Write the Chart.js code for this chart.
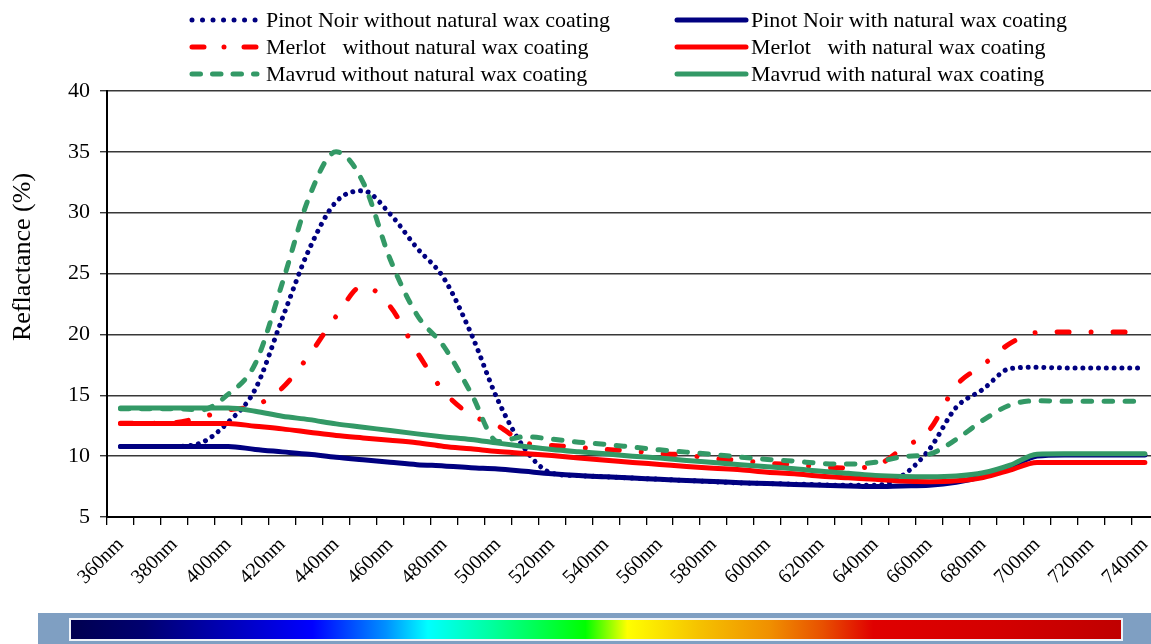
<!DOCTYPE html>
<html>
<head>
<meta charset="utf-8">
<script src="https://cdn.jsdelivr.net/npm/chart.js@4.4.1/dist/chart.umd.min.js"></script>
<style>
html,body{margin:0;padding:0;background:#fff;overflow:hidden;width:1151px;height:644px;}
#wrap{position:absolute;left:0;top:0;width:1170px;height:612px;}
#bar{position:absolute;left:38px;top:613px;width:1113px;height:31px;background:#7f9fc2;}
#grad{position:absolute;left:31px;top:5px;width:1050px;height:19px;border:2px solid #eef2f8;
background:linear-gradient(to right,#000050 0%,#000070 7%,#0000b0 14%,#0000ff 23%,#0090ff 30%,#00ffff 34%,#00ffa0 40%,#00ff00 49%,#ffff00 53%,#f5c000 60%,#f09000 66.5%,#e85000 71.6%,#e00000 76.4%,#d40000 88%,#c00000 100%);}
</style>
</head>
<body>
<div id="wrap"><canvas id="c"></canvas></div>
<div id="bar"><div id="grad"></div></div>
<script>
const categories = ['360nm','370nm','380nm','390nm','400nm','410nm','420nm','430nm','440nm','450nm',
  '460nm','470nm','480nm','490nm','500nm','510nm','520nm','530nm','540nm','550nm',
  '560nm','570nm','580nm','590nm','600nm','610nm','620nm','630nm','640nm','650nm',
  '660nm','670nm','680nm','690nm','700nm','710nm','720nm','730nm','740nm'];

const yTicks = [5,10,15,20,25,30,35,40];

const pinotWithout = [10.8,10.8,10.8,11.1,12.8, 15.5,21.3,27.0,30.9,31.8,
  29.9,27.1,24.6,20.1,14.6, 10.6,8.6,8.4,8.3,8.2,
  8.1,8.0,7.9,7.8,7.75, 7.7,7.65,7.6,7.6,8.4,
  10.55,14.0,15.5,17.2,17.3, 17.25,17.25,17.25,17.25];

const pinotWith = [10.8,10.8,10.8,10.8,10.8, 10.55,10.35,10.15,9.9,9.7,
  9.5,9.3,9.2,9.05,8.95, 8.75,8.55,8.4,8.3,8.2,
  8.1,8.0,7.92,7.82,7.75, 7.67,7.6,7.55,7.5,7.55,
  7.6,7.85,8.35,9.1,10.0, 10.1,10.1,10.1,10.1];

const merlotWithout = [12.7,12.7,12.75,13.2,13.8, 14.15,15.6,18.3,21.5,24.0,
  22.3,18.55,15.3,13.4,12.5, 11.1,10.88,10.71,10.55,10.41,
  10.22,10.08,9.8,9.64,9.42, 9.29,9.1,9.03,9.2,10.63,
  12.14,15.8,17.5,19.26,20.16, 20.2,20.2,20.2,20.2];

const merlotWith = [12.68,12.68,12.68,12.68,12.68, 12.46,12.24,11.97,11.7,11.5,
  11.31,11.1,10.8,10.6,10.38, 10.22,10.05,9.84,9.67,9.48,
  9.32,9.15,9.01,8.88,8.68, 8.55,8.35,8.22,8.1,7.95,
  7.9,7.97,8.25,8.85,9.48, 9.48,9.48,9.48,9.48];

const mavrudWithout = [13.9,13.9,13.9,13.8,15.1, 17.6,24.2,31.3,35.0,32.5,
  26.2,21.6,19.0,15.2,11.2, 11.6,11.4,11.15,10.96,10.74,
  10.52,10.33,10.14,9.92,9.73, 9.59,9.4,9.35,9.5,9.95,
  10.16,11.37,12.96,14.2,14.55, 14.5,14.5,14.5,14.5];

const mavrudWith = [13.95,13.95,13.95,13.95,13.95, 13.69,13.28,13.0,12.65,12.38,
  12.1,11.83,11.58,11.37,11.07, 10.8,10.55,10.36,10.19,10.0,
  9.84,9.64,9.48,9.29,9.12, 8.96,8.75,8.6,8.42,8.33,
  8.3,8.36,8.63,9.26,10.16, 10.2,10.2,10.2,10.2];

const seriesLabels = ['Pinot Noir without natural wax coating','Pinot Noir with natural wax coating',
  'Merlot   without natural wax coating','Merlot   with natural wax coating',
  'Mavrud without natural wax coating','Mavrud with natural wax coating'];

const NAVY = '#000080', RED = '#ff0000', GREEN = '#339966';
const styles = [
  {c:NAVY, w:5, dash:[0.01,7.8], legDash:[0.01,10.5]},
  {c:NAVY, w:5, dash:[], legDash:[]},
  {c:RED, w:5, dash:[12,22,0.01,22], legDash:[12,20,0.01,20]},
  {c:RED, w:5, dash:[], legDash:[]},
  {c:GREEN, w:5, dash:[8.5,12.5], legDash:[8.5,12]},
  {c:GREEN, w:5, dash:[], legDash:[]}
];
const seriesData = [pinotWithout,pinotWith,merlotWithout,merlotWith,mavrudWithout,mavrudWith];

const datasets = seriesData.map((d,i)=>({
  label: seriesLabels[i],
  data: d,
  borderColor: styles[i].c,
  backgroundColor: styles[i].c,
  borderWidth: styles[i].w,
  borderDash: styles[i].dash,
  borderCapStyle: 'round',
  borderJoinStyle: 'round',
  pointRadius: 0,
  fill: false,
  cubicInterpolationMode: 'monotone',
  order: 5 - i
}));

const SERIF = '"Liberation Serif", "Times New Roman", serif';

const customDecor = {
  id: 'customDecor',
  afterDraw(chart) {
    const ctx = chart.ctx;
    ctx.save();
    // legend
    for (let i = 0; i < 6; i++) {
      const col = i % 2, row = Math.floor(i / 2);
      const y = 20 + 27 * row;
      const x0 = col ? 677 : 192, x1 = col ? 746 : 257;
      const tx = col ? 751 : 266;
      const st = styles[i];
      ctx.beginPath();
      ctx.strokeStyle = st.c;
      ctx.lineWidth = st.w;
      ctx.lineCap = 'round';
      ctx.setLineDash(st.legDash);
      ctx.moveTo(x0, y);
      ctx.lineTo(x1, y);
      ctx.stroke();
      ctx.setLineDash([]);
      ctx.fillStyle = '#000';
      ctx.font = '22px ' + SERIF;
      ctx.textBaseline = 'middle';
      ctx.textAlign = 'left';
      ctx.fillText(seriesLabels[i], tx, y + 1);
    }
    // y title
    ctx.translate(23, 257);
    ctx.rotate(-Math.PI / 2);
    ctx.font = '26px ' + SERIF;
    ctx.textAlign = 'center';
    ctx.textBaseline = 'middle';
    ctx.fillStyle = '#000';
    ctx.fillText('Reflactance (%)', 0, 0);
    ctx.restore();
  }
};

new Chart(document.getElementById('c'), {
  type: 'line',
  data: { labels: categories, datasets },
  options: {
    responsive: true,
    maintainAspectRatio: false,
    animation: false,
    layout: { padding: { left: 0, top: 91, right: 11, bottom: 0 } },
    plugins: { legend: { display: false }, tooltip: { enabled: false } },
    scales: {
      x: {
        type: 'category',
        offset: true,
        grid: { offset: true, drawOnChartArea: false, drawTicks: true, tickLength: 8, color: '#000', lineWidth: 1.3 },
        border: { display: true, color: '#000', width: 2 },
        ticks: {
          autoSkip: false, maxRotation: 45, minRotation: 45, color: '#000', padding: 8,
          font: { family: SERIF, size: 20 },
          callback(v, i) { return i % 2 === 0 ? this.getLabelForValue(v) : ''; }
        },
        afterFit(s) { s.height = 95; }
      },
      y: {
        min: 5, max: 40,
        afterBuildTicks(s) { s.ticks = yTicks.map(v => ({ value: v })); },
        grid: { color: '#383838', lineWidth: 1.4, tickLength: 7, drawTicks: true },
        border: { display: true, color: '#000', width: 2 },
        ticks: { color: '#000', padding: 10, font: { family: SERIF, size: 22 } },
        afterFit(s) { s.width = 107; }
      }
    }
  },
  plugins: [customDecor]
});
</script>
</body>
</html>
